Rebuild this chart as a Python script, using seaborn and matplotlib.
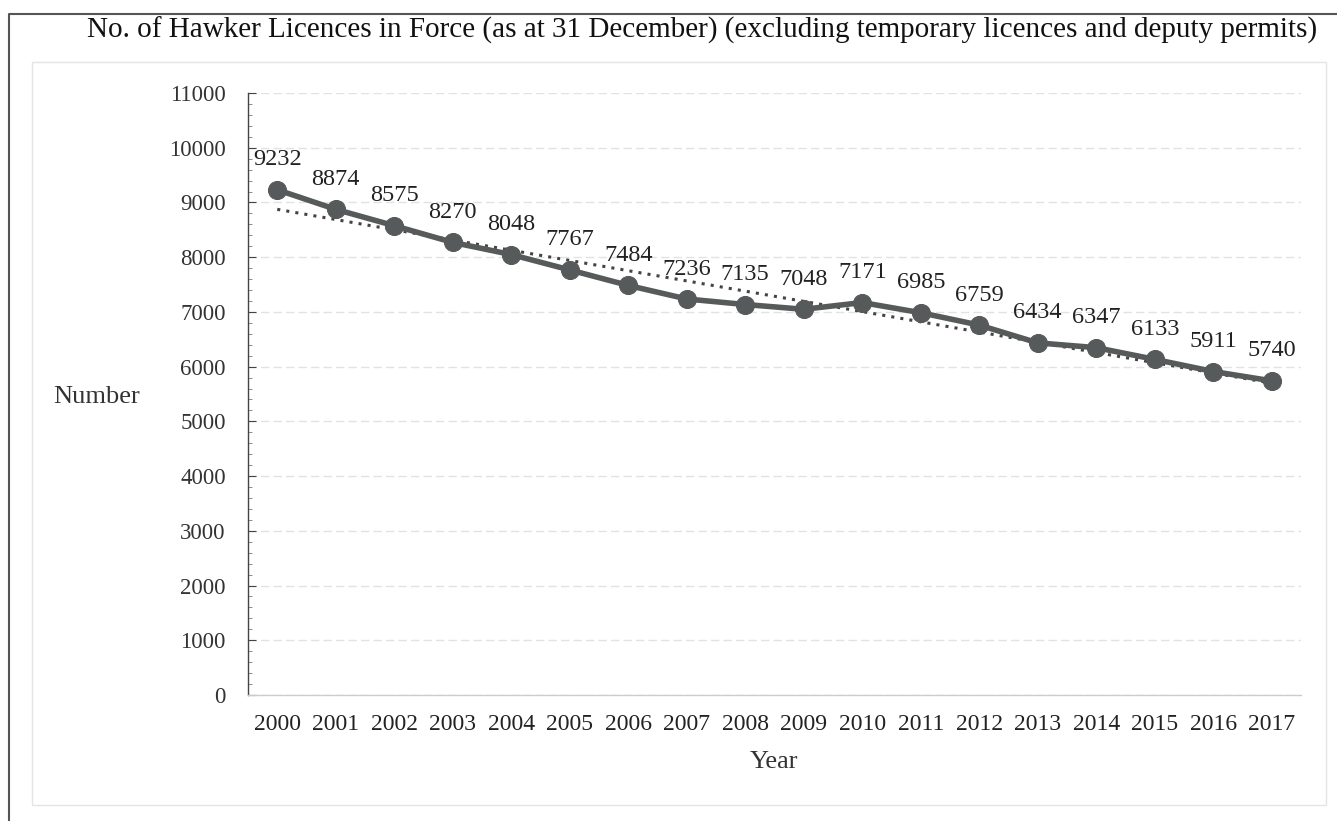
import matplotlib
matplotlib.use('Agg')
import pandas as pd
import matplotlib.pyplot as plt
import seaborn as sns
from matplotlib.ticker import MultipleLocator
from matplotlib.patches import Rectangle
from matplotlib.lines import Line2D

# Dados
anos = [2000, 2001, 2002, 2003, 2004, 2005, 2006, 2007, 2008,
        2009, 2010, 2011, 2012, 2013, 2014, 2015, 2016, 2017]
licencas = [9232, 8874, 8575, 8270, 8048, 7767, 7484, 7236, 7135,
            7048, 7171, 6985, 6759, 6434, 6347, 6133, 5911, 5740]
titulo = ('No. of Hawker Licences in Force (as at 31 December) '
          '(excluding temporary licences and deputy permits)')

df = pd.DataFrame({'ano': anos, 'licencas': licencas})
df['pos'] = range(len(df))

sns.set_style('white')
plt.rcParams['font.family'] = ['Liberation Serif', 'DejaVu Serif']

W, H = 1337, 821
fig = plt.figure(figsize=(W / 100, H / 100), dpi=100)
ax = fig.add_axes([248 / W, 1 - 695 / H, 1053 / W, 602 / H])

cor = '#575a5a'

# Linha de tendência linear (pontilhada)
sns.regplot(data=df, x='pos', y='licencas', scatter=False, ci=None, ax=ax,
            truncate=True,
            line_kws={'color': '#444444', 'linestyle': (0, (1, 2)), 'linewidth': 2.2})

# Série principal
sns.lineplot(data=df, x='pos', y='licencas', ax=ax, color=cor, linewidth=4,
             marker='o', markersize=13, markeredgecolor=cor)

for x, y in zip(df['pos'], df['licencas']):
    ax.annotate(str(y), (x, y), xytext=(0, 14), textcoords='offset points',
                ha='center', va='bottom', fontsize=17.5, color='#222222')

ax.set_xlim(-0.5, len(anos) - 0.5)
ax.set_ylim(0, 11000)
ax.set_xticks(df['pos'])
ax.set_xticklabels(anos)
ax.yaxis.set_major_locator(MultipleLocator(1000))
ax.yaxis.set_minor_locator(MultipleLocator(200))
ax.tick_params(axis='y', which='major', left=True, direction='in', length=6,
               labelsize=16.5, labelcolor='#333333', pad=16, color='#444444')
ax.tick_params(axis='y', which='minor', left=True, direction='in', length=3, color='#777777')
ax.tick_params(axis='x', bottom=False, labelsize=17, labelcolor='#222222', pad=10)
ax.grid(axis='y', which='major', color='#e2e2e2', linewidth=1, linestyle=(0, (6, 3)))
ax.set_axisbelow(True)

for lado in ['top', 'right']:
    ax.spines[lado].set_visible(False)
ax.spines['left'].set_color('#444444')
ax.spines['left'].set_linewidth(1)
ax.spines['bottom'].set_color('#cccccc')
ax.spines['bottom'].set_linewidth(1)

ax.set_xlabel('Year', fontsize=19, color='#333333', labelpad=12)
ax.set_ylabel('')
fig.text(97 / W, 1 - 397 / H, 'Number', fontsize=19, color='#333333',
         ha='center', va='center')
fig.text(702 / W, 1 - 30 / H, titulo, fontsize=21, color='#111111',
         ha='center', va='center')

# Moldura externa (esquerda e topo) e área do gráfico
fig.lines.append(Line2D([9 / W, 9 / W, 1], [0, 1 - 14 / H, 1 - 14 / H],
                        transform=fig.transFigure, color='#555555', linewidth=1.5))
fig.patches.append(Rectangle((32 / W, 1 - 805 / H), (1326 - 32) / W, (805 - 62) / H,
                             transform=fig.transFigure, fill=False,
                             edgecolor='#e4e4e4', linewidth=1))

fig.savefig('out.png', dpi=100)
